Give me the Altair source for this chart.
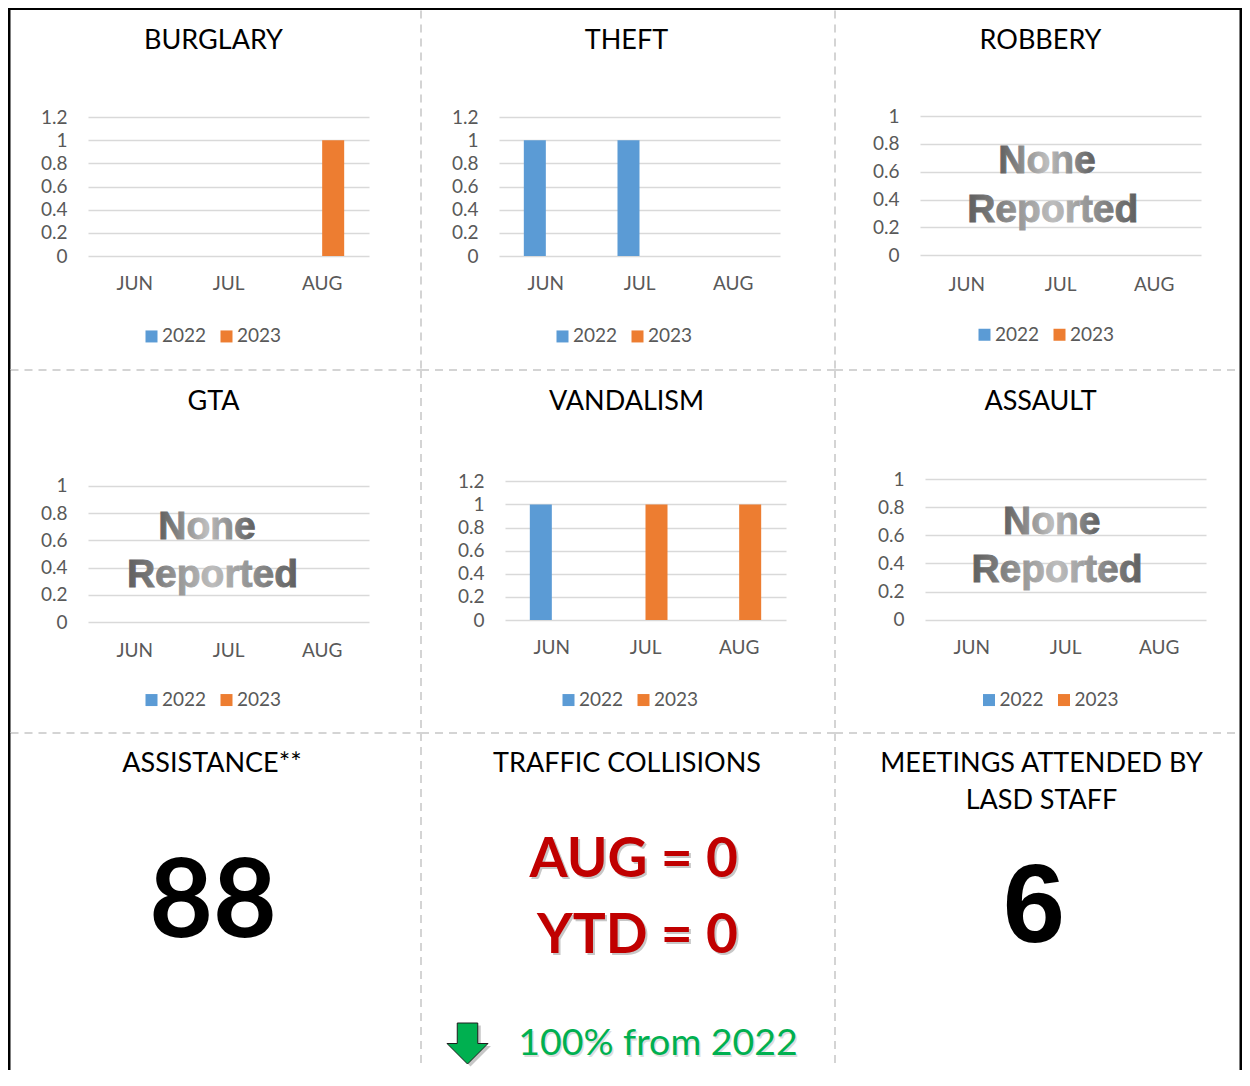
import altair as alt
import pandas as pd

# ---------------- data ----------------
MONTHS = ["JUN", "JUL", "AUG"]
YEARS = ["2022", "2023"]

burglary_2022 = [0, 0, 0]
burglary_2023 = [0, 0, 1]
theft_2022 = [1, 1, 0]
theft_2023 = [0, 0, 0]
robbery_2022 = [0, 0, 0]
robbery_2023 = [0, 0, 0]
gta_2022 = [0, 0, 0]
gta_2023 = [0, 0, 0]
vandalism_2022 = [1, 0, 0]
vandalism_2023 = [0, 1, 1]
assault_2022 = [0, 0, 0]
assault_2023 = [0, 0, 0]

y_ticks_tall = [0, 0.2, 0.4, 0.6, 0.8, 1, 1.2]
y_ticks_short = [0, 0.2, 0.4, 0.6, 0.8, 1]

none_reported_words = ["None", "Reported"]

assistance_title = ["ASSISTANCE**"]
assistance_value = ["88"]
traffic_title = ["TRAFFIC COLLISIONS"]
traffic_month = ["AUG = 0"]
traffic_ytd = ["YTD = 0"]
traffic_change = ["100% from 2022"]
meetings_title = ["MEETINGS ATTENDED BY", "LASD STAFF"]
meetings_value = ["6"]

# ---------------- styles / layout ----------------
FONT = "Lato"
BAR_COLORS = ["#5B9BD5", "#ED7D31"]
LABEL_GRAY = "#595959"
GRID = "#D9D9D9"
DIVIDER = "#D4D4D4"
BORDER = "#000000"

COL_W = [413, 414, 407]
ROW_H = [362, 363, 337]

PANELS = [
    ("BURGLARY", 0, 0, burglary_2022, burglary_2023, y_ticks_tall),
    ("THEFT", 0, 1, theft_2022, theft_2023, y_ticks_tall),
    ("ROBBERY", 0, 2, robbery_2022, robbery_2023, y_ticks_short),
    ("GTA", 1, 0, gta_2022, gta_2023, y_ticks_short),
    ("VANDALISM", 1, 1, vandalism_2022, vandalism_2023, y_ticks_tall),
    ("ASSAULT", 1, 2, assault_2022, assault_2023, y_ticks_short),
]

LAYOUT = {
    "BURGLARY": dict(px=[80, 361], py=[248, 109], xlab=266.6, leg=(204, 328.7), ty=41.3),
    "THEFT": dict(px=[78, 359], py=[248, 109], xlab=266.6, leg=(202, 328.7), ty=41.3),
    "ROBBERY": dict(px=[85, 366], py=[247.3, 108], xlab=267.3, leg=(210, 327), ty=41.3,
                    none=[(212, 165.3), (217.8, 213.7)]),
    "GTA": dict(px=[80, 361], py=[252.3, 115.7], xlab=271.6, leg=(204, 330.3), ty=39.7,
                none=[(199, 168.7), (204.5, 217)]),
    "VANDALISM": dict(px=[84, 365], py=[250, 111.3], xlab=268.3, leg=(208, 330.3), ty=39.7),
    "ASSAULT": dict(px=[90, 371], py=[249.7, 109], xlab=268.3, leg=(214.5, 330.3), ty=39.7,
                    none=[(216.8, 164), (222, 212.3)]),
}

NONE_GRADIENT = alt.LinearGradient(
    gradient="linear",
    stops=[
        alt.GradientStop(color="#5E5E5E", offset=0),
        alt.GradientStop(color="#BDBDBD", offset=0.5),
        alt.GradientStop(color="#5E5E5E", offset=1),
    ],
    x1=0, x2=1, y1=0, y2=0,
)

ARROW_PATH = "M-0.5,-1L0.5,-1L0.5,0L1,0L0,1L-1,0L-0.5,0Z"


def text_layer(words, x, y, size, color, font=FONT, weight="normal", align="center",
               dx=0, dy=0, opacity=1.0, stroke=None, stroke_width=0):
    props = dict(font=font, fontSize=size, fontWeight=weight, color=color, align=align,
                 baseline="alphabetic", dx=dx, dy=dy, opacity=opacity)
    if stroke is not None:
        props.update(stroke=stroke, strokeWidth=stroke_width)
    return alt.Chart(pd.DataFrame({"t": words})).mark_text(**props).encode(
        text="t:N", x=alt.value(x), y=alt.value(y))


def frame_layers(row, col):
    w, h = COL_W[col], ROW_H[row]
    src = alt.Chart(pd.DataFrame({"edge": [0]}))
    out = []
    # dashed dividers (kept inside the outer frame so bounds stay exact)
    if row > 0:
        x0 = 2.5 if col == 0 else 0
        x1 = w - 2.5 if col == 2 else w
        out.append(src.mark_rule(color=DIVIDER, strokeWidth=2, strokeDash=[8, 6]).encode(
            x=alt.value(x0), x2=alt.value(x1), y=alt.value(0)))
    if col > 0:
        y0 = 2.5 if row == 0 else 0
        y1 = h - 2.5 if row == 2 else h
        out.append(src.mark_rule(color=DIVIDER, strokeWidth=2, strokeDash=[8, 6]).encode(
            x=alt.value(0), y=alt.value(y0), y2=alt.value(y1)))
    # solid black outer frame as thin filled rects
    if row == 0:
        out.append(src.mark_rect(color=BORDER).encode(
            x=alt.value(0), x2=alt.value(w), y=alt.value(0), y2=alt.value(2)))
    if col == 0:
        out.append(src.mark_rect(color=BORDER).encode(
            x=alt.value(0), x2=alt.value(2.5), y=alt.value(0), y2=alt.value(h)))
    if col == 2:
        out.append(src.mark_rect(color=BORDER).encode(
            x=alt.value(w - 2.5), x2=alt.value(w), y=alt.value(0), y2=alt.value(h)))
    return out


def crime_panel(name, row, col, v22, v23, ticks):
    L = LAYOUT[name]
    w, h = COL_W[col], ROW_H[row]
    df = pd.DataFrame({
        "month": MONTHS * 2,
        "year": [YEARS[0]] * 3 + [YEARS[1]] * 3,
        "count": list(v22) + list(v23),
    })
    ymax = max(ticks)
    bars = alt.Chart(df).mark_bar().encode(
        x=alt.X(
            "month:N", sort=MONTHS, title=None,
            scale=alt.Scale(domain=MONTHS, range=L["px"], paddingInner=0.53, paddingOuter=0.265),
            axis=alt.Axis(orient="bottom", offset=-(h - L["xlab"]), labelAngle=0, domain=False,
                          ticks=False, tickSize=0, labelPadding=0, grid=False,
                          labelFont=FONT, labelFontSize=19, labelColor=LABEL_GRAY),
        ),
        xOffset=alt.XOffset("year:N", scale=alt.Scale(domain=YEARS)),
        y=alt.Y(
            "count:Q", title=None,
            scale=alt.Scale(domain=[0, ymax], range=L["py"], nice=False),
            axis=alt.Axis(orient="left", offset=-(L["px"][0] - 21), values=ticks, format="~g",
                          domain=False, ticks=False, tickSize=0, labelPadding=0,
                          grid=True, gridColor=GRID, gridWidth=1.3,
                          labelFont=FONT, labelFontSize=19, labelColor=LABEL_GRAY),
        ),
        color=alt.Color(
            "year:N", scale=alt.Scale(domain=YEARS, range=BAR_COLORS),
            legend=alt.Legend(orient="none", legendX=L["leg"][0] - 70, legendY=L["leg"][1] - 10,
                              direction="horizontal", title=None, symbolType="square",
                              symbolSize=144, symbolStrokeWidth=0, labelFont=FONT,
                              labelFontSize=19, labelColor=LABEL_GRAY, labelOffset=1,
                              columnPadding=10, padding=0),
        ),
    )
    layers = frame_layers(row, col) + [bars, text_layer([name], 205.5, L["ty"], 27, "#000000")]
    if "none" in L:
        for word, (x, y) in zip(none_reported_words, L["none"]):
            layers.append(text_layer([word], x, y, 39, NONE_GRADIENT, font="Liberation Sans",
                                     weight="bold", stroke=NONE_GRADIENT, stroke_width=0.9))
    return alt.layer(*layers).properties(width=w, height=h)


def assistance_panel():
    row, col = 2, 0
    layers = frame_layers(row, col) + [
        text_layer(assistance_title, 204, 38.7, 27, "#000000"),
        text_layer(assistance_value, 205, 203.7, 110, "#000000", weight="bold"),
    ]
    return alt.layer(*layers).properties(width=COL_W[col], height=ROW_H[row])


def traffic_panel():
    row, col = 2, 1
    arrow_src = alt.Chart(pd.DataFrame({"dir": ["down"]}))
    layers = frame_layers(row, col) + [
        text_layer(traffic_title, 206, 38.7, 27, "#000000"),
        text_layer(traffic_month, 317, 143.7, 55, "#9A9A9A", weight="bold", align="right",
                   dx=2, dy=2, opacity=0.55),
        text_layer(traffic_ytd, 317, 219.7, 55, "#9A9A9A", weight="bold", align="right",
                   dx=2, dy=2, opacity=0.55),
        text_layer(traffic_month, 317, 143.7, 55, "#C00000", weight="bold", align="right"),
        text_layer(traffic_ytd, 317, 219.7, 55, "#C00000", weight="bold", align="right"),
        arrow_src.mark_point(shape=ARROW_PATH, size=1681, filled=True, fill="#808080",
                             strokeWidth=0, opacity=0.45).encode(
            x=alt.value(49.5), y=alt.value(313)),
        arrow_src.mark_point(shape=ARROW_PATH, size=1681, filled=True, fill="#00B050",
                             stroke="#1E1E1E", strokeWidth=1, opacity=1).encode(
            x=alt.value(46.5), y=alt.value(310.5)),
        text_layer(traffic_change, 237, 322, 37.5, "#BDBDBD", dx=1.5, dy=1.5, opacity=0.5),
        text_layer(traffic_change, 237, 322, 37.5, "#00B050"),
    ]
    return alt.layer(*layers).properties(width=COL_W[col], height=ROW_H[row])


def meetings_panel():
    row, col = 2, 2
    layers = frame_layers(row, col) + [
        text_layer([meetings_title[0]], 206.5, 38.7, 27, "#000000"),
        text_layer([meetings_title[1]], 206.5, 76.3, 27, "#000000"),
        text_layer(meetings_value, 199, 208.7, 112, "#000000", font="Liberation Sans", weight="bold"),
    ]
    return alt.layer(*layers).properties(width=COL_W[col], height=ROW_H[row])


cells = [crime_panel(*p) for p in PANELS] + [assistance_panel(), traffic_panel(), meetings_panel()]

chart = alt.concat(*cells, columns=3, spacing=0, bounds="flush").resolve_scale(
    color="independent", xOffset="independent"
).properties(padding=0).configure_view(stroke=None)

chart.save("out.html", embed_options={"renderer": "svg", "actions": False})
